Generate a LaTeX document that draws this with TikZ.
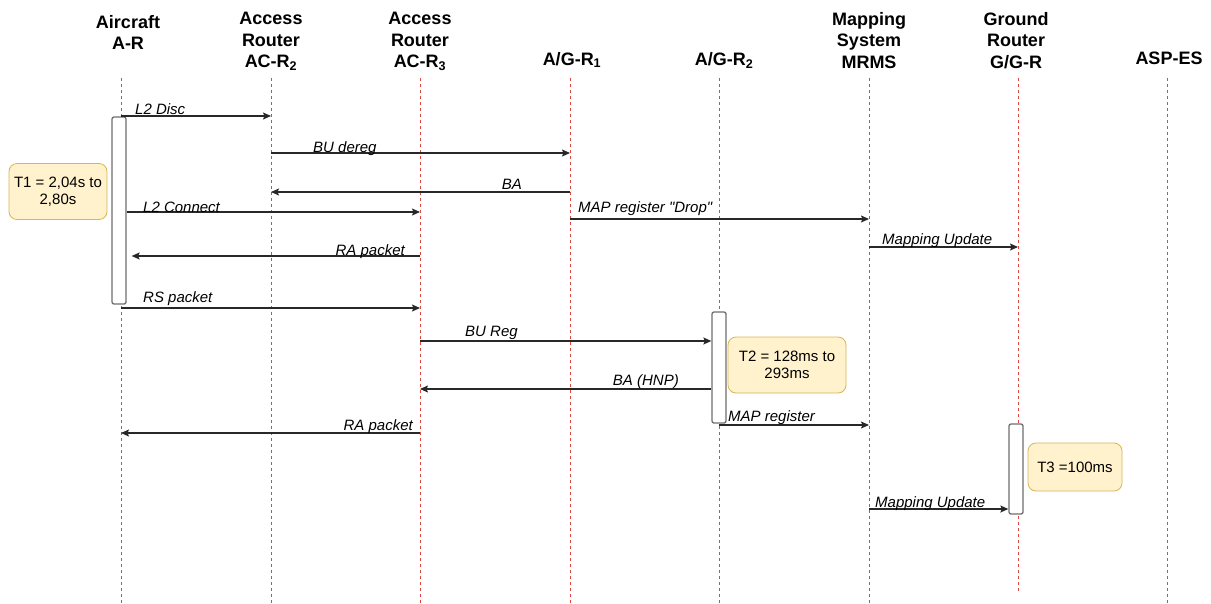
\documentclass[tikz,border=0pt]{standalone}
\usepackage{fontspec}
\setmainfont{Liberation Sans}[Ligatures=TeXOff]
\usepackage{tikz}
\usetikzlibrary{arrows.meta,positioning}
\definecolor{lifered}{RGB}{222,70,70}
\definecolor{notefill}{RGB}{255,242,204}
\definecolor{noteline}{RGB}{214,182,86}
\definecolor{boxline}{RGB}{110,110,110}
\definecolor{msgline}{RGB}{40,40,40}

\begin{document}
\begin{tikzpicture}[
  x=1pt,y=-1pt,
  actor/.style={anchor=north,inner sep=0pt,align=center,font=\fontsize{18}{21.5}\selectfont\bfseries},
  life/.style={lifered,line width=1pt,dash pattern=on 3pt off 3pt},
  act/.style={draw=boxline,fill=white,line width=1.3pt,rounded corners=2pt,minimum width=14pt,inner sep=0pt},
  msg/.style={msgline,line width=1.2pt,-{Stealth[length=8pt,width=7pt,inset=1.5pt]}},
  lbl/.style={inner sep=0pt,font=\fontsize{15}{18}\selectfont\itshape},
  note/.style={draw=noteline,fill=notefill,rounded corners=8pt,line width=0.8pt,align=center,inner sep=0pt,font=\fontsize{15}{17}\selectfont},
]
\useasboundingbox (0,0) rectangle (1211,603);

% Teilnehmer
\node[actor] (hAR) at (128,15) {Aircraft\\A-R};
\node[actor] (hACR2) at (271,12) {Access\\Router\\AC-R\textsubscript{2}};
\node[actor] (hACR3) at (420,12) {Access\\Router\\AC-R\textsubscript{3}};
\node[actor] (hAGR1) at (572,52) {A/G-R\textsubscript{1}};
\node[actor] (hAGR2) at (724,52) {A/G-R\textsubscript{2}};
\node[actor] (hMRMS) at (869,12) {Mapping\\System\\MRMS};
\node[actor] (hGGR) at (1016,12) {Ground\\Router\\G/G-R};
\node[actor] (hASP) at (1169,52) {ASP-ES};

% Lebenslinien
\coordinate (AR) at (121,78);
\coordinate (ACR2) at (271,78);
\coordinate (ACR3) at (420,78);
\coordinate (AGR1) at (570,78);
\coordinate (AGR2) at (719,78);
\coordinate (MRMS) at (869,78);
\coordinate (GGR) at (1018,78);
\coordinate (ASP) at (1167,78);

\draw[life] (AR) -- (AR |- 0,603);
\draw[life] (ACR2) -- (ACR2 |- 0,603);
\draw[life] (ACR3) -- (ACR3 |- 0,603);
\draw[life] (AGR1) -- (AGR1 |- 0,603);
\draw[life] (AGR2) -- (AGR2 |- 0,603);
\draw[life] (MRMS) -- (MRMS |- 0,603);
\draw[life] (GGR) -- (GGR |- 0,593);
\draw[life] (ASP) -- (ASP |- 0,603);

% Aktivierungen
\node[act,minimum height=187pt] (aAR) at (119,210.5) {};
\node[act,minimum height=111pt] (aAGR2) at (719,367.5) {};
\node[act,minimum height=90pt] (aGGR) at (1016,469) {};

% Nachrichten
\draw[msg] (AR |- 0,116) -- (ACR2 |- 0,116);
\node[lbl,anchor=base west] (m1) at (135,114) {L2 Disc};

\draw[msg] (ACR2 |- 0,153) -- (AGR1 |- 0,153);
\node[lbl,anchor=base west] (m2) at (313,152) {BU dereg};

\draw[msg] (AGR1 |- 0,192) -- (ACR2 |- 0,192);
\node[lbl,anchor=base east] (m3) at (522,189) {BA};

\draw[msg] (aAR.east |- 0,212) -- (ACR3 |- 0,212);
\node[lbl,anchor=base west] (m4) at (143,212) {L2 Connect};

\draw[msg] (AGR1 |- 0,219) -- (MRMS |- 0,219);
\node[lbl,anchor=base west] (m5) at (578,212) {MAP register "Drop"};

\draw[msg,shorten >=5pt] (ACR3 |- 0,256) -- (aAR.east |- 0,256);
\node[lbl,anchor=base east] (m6) at (405,255) {RA packet};

\draw[msg] (MRMS |- 0,247) -- (GGR |- 0,247);
\node[lbl,anchor=base west] (m7) at (882,244) {Mapping Update};

\draw[msg] (AR |- 0,308) -- (ACR3 |- 0,308);
\node[lbl,anchor=base west] (m8) at (143,302) {RS packet};

\draw[msg] (ACR3 |- 0,341) -- (aAGR2.west |- 0,341);
\node[lbl,anchor=base west] (m9) at (465,336) {BU Reg};

\draw[msg] (aAGR2.west |- 0,389) -- (ACR3 |- 0,389);
\node[lbl,anchor=base east] (m10) at (679,385) {BA (HNP)};

\draw[msg] (ACR3 |- 0,433) -- (AR |- 0,433);
\node[lbl,anchor=base east] (m11) at (413,430) {RA packet};

\draw[msg] (AGR2 |- 0,425) -- (MRMS |- 0,425);
\node[lbl,anchor=base west] (m12) at (728,421) {MAP register};

\draw[msg] (MRMS |- 0,509) -- (aGGR.west |- 0,509);
\node[lbl,anchor=base west] (m13) at (875,507) {Mapping Update};

% Zeitangaben
\node[note,minimum width=98pt,minimum height=56pt] (t1) at (58,191.5) {T1 = 2,04s to\\2,80s};
\node[note,minimum width=118pt,minimum height=56pt] (t2) at (787,365) {T2 = 128ms to\\293ms};
\node[note,minimum width=94pt,minimum height=48pt] (t3) at (1075,467) {T3 =100ms};

\end{tikzpicture}
\end{document}
